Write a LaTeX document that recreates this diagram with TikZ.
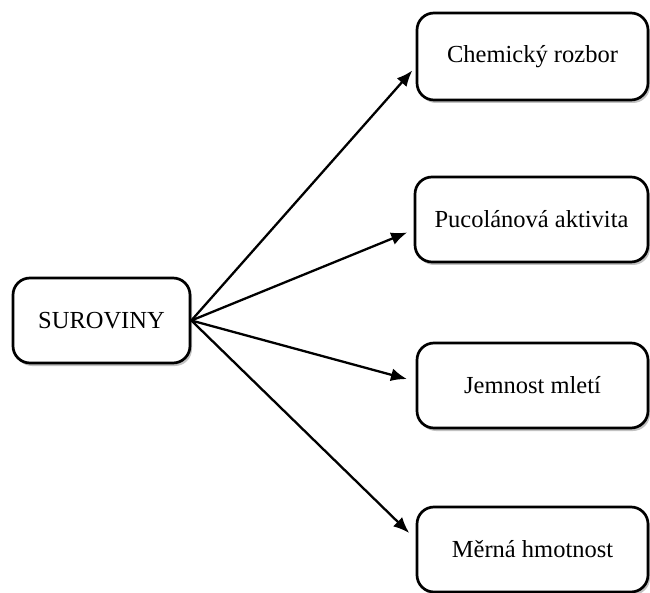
\documentclass[tikz,border=0pt]{standalone}
\usepackage{fontspec}
\setmainfont{Liberation Serif}
\usetikzlibrary{arrows.meta,shadows}
\begin{document}
\begin{tikzpicture}[x=1pt,y=-1pt,
  boxstyle/.style={draw=black, line width=2.7pt, rounded corners=17pt, fill=white,
    font=\fontsize{24.5}{29}\selectfont, inner sep=0pt,
    drop shadow={shadow xshift=2pt, shadow yshift=-3pt, opacity=0.4, fill=black!60}},
  arrowstyle/.style={line width=2.3pt, -{Latex[length=16pt,width=13pt]}}]
\useasboundingbox (0,0) rectangle (650,593);
\node[boxstyle, minimum width=177pt, minimum height=85pt] (s) at (101.5,320.5) {SUROVINY};
\node[boxstyle, minimum width=231pt, minimum height=87pt] (b1) at (532.5,56.5) {Chemický rozbor};
\node[boxstyle, minimum width=233pt, minimum height=85pt] (b2) at (531.5,219.5) {Pucolánová aktivita};
\node[boxstyle, minimum width=231pt, minimum height=85pt] (b3) at (532.5,385.5) {Jemnost mletí};
\node[boxstyle, minimum width=231pt, minimum height=85pt] (b4) at (532.5,549.5) {Měrná hmotnost};
\draw[arrowstyle, shorten >=5pt] (s.east) -- (b1.185);
\draw[arrowstyle, shorten >=7pt] (s.east) -- (b2.185);
\draw[arrowstyle, shorten >=9pt] (s.east) -- (b3.178);
\draw[arrowstyle, shorten >=9pt] (s.east) -- (b4.175);
\end{tikzpicture}
\end{document}
